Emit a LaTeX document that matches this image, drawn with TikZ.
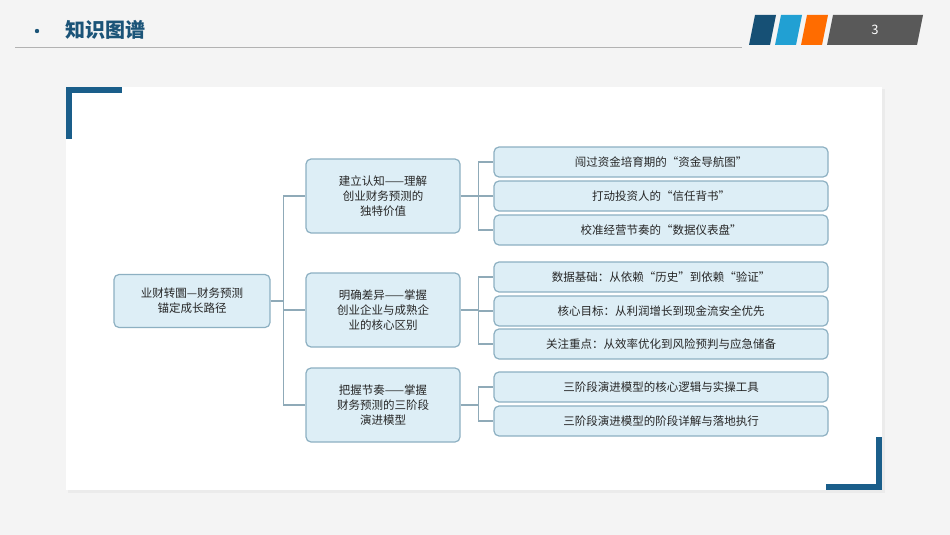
\documentclass[tikz,border=0pt]{standalone}
\usepackage{fontspec}
\setmainfont{Noto Sans CJK SC}
\usetikzlibrary{positioning,calc}
\definecolor{pagebg}{HTML}{F4F4F4}
\definecolor{titleblue}{HTML}{1B5478}
\definecolor{cornerblue}{HTML}{1A5E8A}
\definecolor{boxfill}{HTML}{DDEEF6}
\definecolor{boxline}{HTML}{8DB0C2}
\definecolor{linkgray}{HTML}{8FAAB8}
\tikzset{
  box/.style={draw=boxline,line width=1.2pt,fill=boxfill,rounded corners=5pt,
    align=center,font=\fontsize{11.5}{15}\selectfont,text=black!85,inner sep=2pt},
  mid/.style={box,minimum width=154pt,minimum height=74pt},
  leaf/.style={box,minimum width=334pt,minimum height=30pt},
  link/.style={draw=linkgray,line width=1.2pt}
}
\begin{document}
\begin{tikzpicture}[x=1pt,y=-1pt]
  \fill[pagebg] (0,0) rectangle (950,535);
  \useasboundingbox (0,0) rectangle (950,535);
  % header
  \fill[titleblue] (37,31) circle (2.2pt);
  \node[anchor=west,text=titleblue,font=\bfseries\fontsize{20}{24}\selectfont] (title) at (62,30) {知识图谱};
  \draw[gray!60,line width=0.8pt] (15,47) -- (742,47);
  \fill[cornerblue!85!black] (755,15) -- (776,15) -- (770,45) -- (749,45) -- cycle;
  \fill[cyan!70!teal] (781,15) -- (802,15) -- (796,45) -- (775,45) -- cycle;
  \fill[orange!85!red] (807,15) -- (828,15) -- (822,45) -- (801,45) -- cycle;
  \fill[black!65] (833,15) -- (923,15) -- (917,45) -- (827,45) -- cycle;
  \node[text=white,font=\fontsize{13}{15}\selectfont] (pagenum) at (875,30) {3};
  % panel
  \fill[black!8] (68,89) rectangle (885,493);
  \fill[white] (66,87) rectangle (882,490);
  \fill[cornerblue] (66,87) rectangle (122,93);
  \fill[cornerblue] (66,87) rectangle (72,139);
  \fill[cornerblue] (826,484) rectangle (882,490);
  \fill[cornerblue] (876,437) rectangle (882,490);
  % nodes
  \node[box,minimum width=156pt,minimum height=53pt] (root) at (192,301) {业财转圜—财务预测\\锚定成长路径};
  \node[mid] (m1) at (383,196) {建立认知——理解\\创业财务预测的\\独特价值};
  \node[mid] (m2) at (383,310) {明确差异——掌握\\创业企业与成熟企\\业的核心区别};
  \node[mid] (m3) at (383,405) {把握节奏——掌握\\财务预测的三阶段\\演进模型};
  \node[leaf] (l1) at (661,162) {闯过资金培育期的“资金导航图”};
  \node[leaf] (l2) at (661,196) {打动投资人的“信任背书”};
  \node[leaf] (l3) at (661,230) {校准经营节奏的“数据仪表盘”};
  \node[leaf] (l4) at (661,277) {数据基础：从依赖“历史”到依赖“验证”};
  \node[leaf] (l5) at (661,311) {核心目标：从利润增长到现金流安全优先};
  \node[leaf] (l6) at (661,344) {关注重点：从效率优化到风险预判与应急储备};
  \node[leaf] (l7) at (661,387) {三阶段演进模型的核心逻辑与实操工具};
  \node[leaf] (l8) at (661,421) {三阶段演进模型的阶段详解与落地执行};
  % connectors
  \draw[link] (root.east) -- ++(13,0);
  \foreach \m in {m1,m2,m3}
    \draw[link] (root.east) ++(13,0) |- (\m.west);
  \foreach \m/\a/\b in {m1/l1/l3,m2/l4/l6,m3/l7/l8}{
    \draw[link] (\m.east) -- ++(18,0);
  }
  \foreach \m/\l in {m1/l1,m1/l2,m1/l3,m2/l4,m2/l5,m2/l6,m3/l7,m3/l8}
    \draw[link] (\m.east) ++(18,0) |- (\l.west);
\end{tikzpicture}
\end{document}
